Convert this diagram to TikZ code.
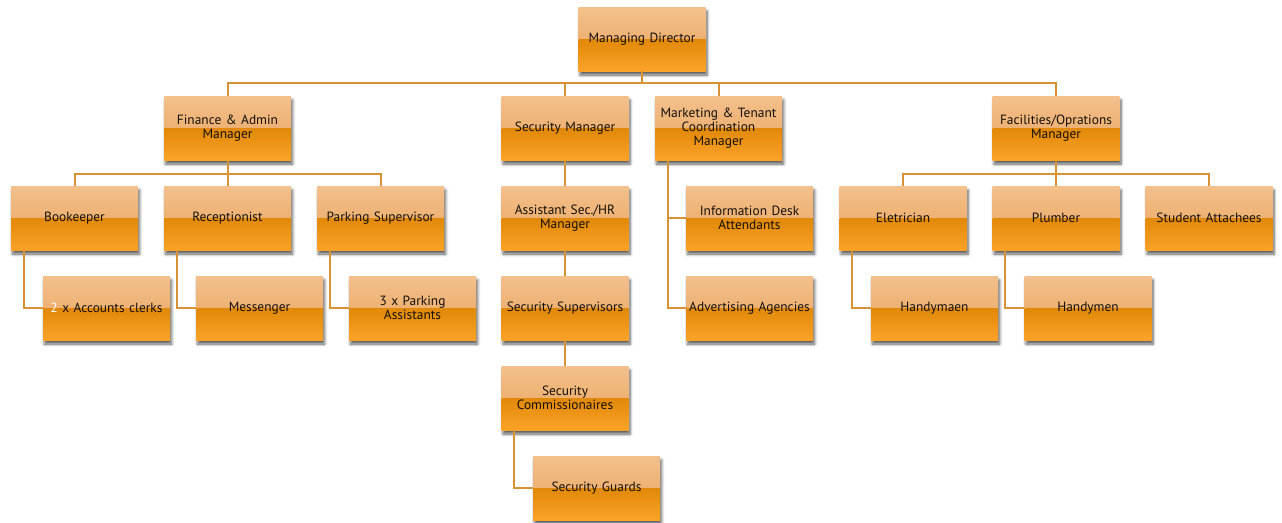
\documentclass[tikz,border=0pt]{standalone}
\usepackage{fontspec}
\setmainfont{PT Sans}
\usepackage{tikz}
\usetikzlibrary{shadows.blur}

\definecolor{boxtop}{RGB}{243,192,140}
\definecolor{boxmidl}{RGB}{232,162,90}
\definecolor{boxmidd}{RGB}{225,136,8}
\definecolor{boxbot}{RGB}{251,163,40}
\definecolor{linkc}{RGB}{214,146,52}
\definecolor{inkc}{RGB}{20,16,10}

\tikzset{
  unit/.style={rectangle, inner sep=0pt, minimum width=127, minimum height=64,
    text width=124, align=center, text=inkc, font=\fontsize{13.4}{14}\selectfont,
    blur shadow={shadow xshift=1.5pt, shadow yshift=-4pt, shadow blur steps=6,
      shadow blur radius=3pt, shadow opacity=65},
    path picture={
      \shade[top color=boxtop, bottom color=boxmidl]
        (path picture bounding box.north west) rectangle (path picture bounding box.east);
      \shade[top color=boxmidd, bottom color=boxbot]
        (path picture bounding box.west) rectangle (path picture bounding box.south east);
    }},
  link/.style={draw=linkc, line width=2pt}
}

\begin{document}
\begin{tikzpicture}[x=1pt, y=-1pt]
    \useasboundingbox (0,0) rectangle (1282,522);
\node[unit] (md) at (642,39) {Managing Director}; % top 
\node[unit] (fin) at (227.5,128) {Finance \& Admin\\Manager}; % level 1 
\node[unit] (secm) at (565,128) {Security Manager}; % level 1 
\node[unit] (mkt) at (718.5,128) {Marketing \& Tenant\\Coordination\\Manager}; % level 1 
\node[unit] (fac) at (1056,128) {Facilities/Oprations\\Manager}; % level 1 
\node[unit] (book) at (74.5,218) {Bookeeper}; % level 2 
\node[unit] (recp) at (227.5,218) {Receptionist}; % level 2 
\node[unit] (park) at (380.5,218) {Parking Supervisor}; % level 2 
\node[unit] (asec) at (565,218) {Assistant Sec./HR\\Manager}; % level 2 
\node[unit] (info) at (749.5,218) {Information Desk\\Attendants}; % level 2 
\node[unit] (ele) at (903,218) {Eletrician}; % level 2 
\node[unit] (plumb) at (1056,218) {Plumber}; % level 2 
\node[unit] (stud) at (1209,218) {Student Attachees}; % level 2 
\node[unit] (clerks) at (106.5,308) {\textcolor{white}{2} x Accounts clerks}; % level 3 
\node[unit] (mess) at (259.5,308) {Messenger}; % level 3 
\node[unit] (parka) at (412.5,308) {3 x Parking\\Assistants}; % level 3 
\node[unit] (secsup) at (565,308) {Security Supervisors}; % level 3 
\node[unit] (adv) at (749.5,308) {Advertising Agencies}; % level 3 
\node[unit] (handya) at (934.5,308) {Handymaen}; % level 3 
\node[unit] (handyb) at (1088,308) {Handymen}; % level 3 
\node[unit] (comm) at (565,398) {Security\\Commissionaires}; % level 4 
\node[unit] (guards) at (596.5,488) {Security Guards}; % level 5 
\draw[link] (md.south) -- ++(0,12) -| (fin.north); % md 
\draw[link] (md.south) -- ++(0,12) -| (fac.north); % md 
\draw[link] (md.south) -- ++(0,12) -| (secm.north); % md 
\draw[link] (md.south) -- ++(0,12) -| (mkt.north); % md 
\draw[link] (fin.south) -- ++(0,14) -| (book.north); % fin 
\draw[link] (fin.south) -- ++(0,14) -| (park.north); % fin 
\draw[link] (fin.south) -- (recp.north); % fin 
\draw[link] (fac.south) -- ++(0,14) -| (ele.north); % fac 
\draw[link] (fac.south) -- ++(0,14) -| (stud.north); % fac 
\draw[link] (fac.south) -- (plumb.north); % fac 
\draw[link] (secm.south) -- (asec.north); % secm 
\draw[link] (asec.south) -- (secsup.north); % asec 
\draw[link] (secsup.south) -- (comm.north); % secsup 
\draw[link] ([xshift=13]mkt.south west) |- (info.west); % mkt 
\draw[link] ([xshift=13]mkt.south west) |- (adv.west); % mkt 
\draw[link] ([xshift=13]book.south west) |- (clerks.west); % book 
\draw[link] ([xshift=13]recp.south west) |- (mess.west); % recp 
\draw[link] ([xshift=13]park.south west) |- (parka.west); % park 
\draw[link] ([xshift=13]ele.south west) |- (handya.west); % ele 
\draw[link] ([xshift=13]plumb.south west) |- (handyb.west); % plumb 
\draw[link] ([xshift=13]comm.south west) |- (guards.west); % comm 

    \end{tikzpicture}
\end{document}
